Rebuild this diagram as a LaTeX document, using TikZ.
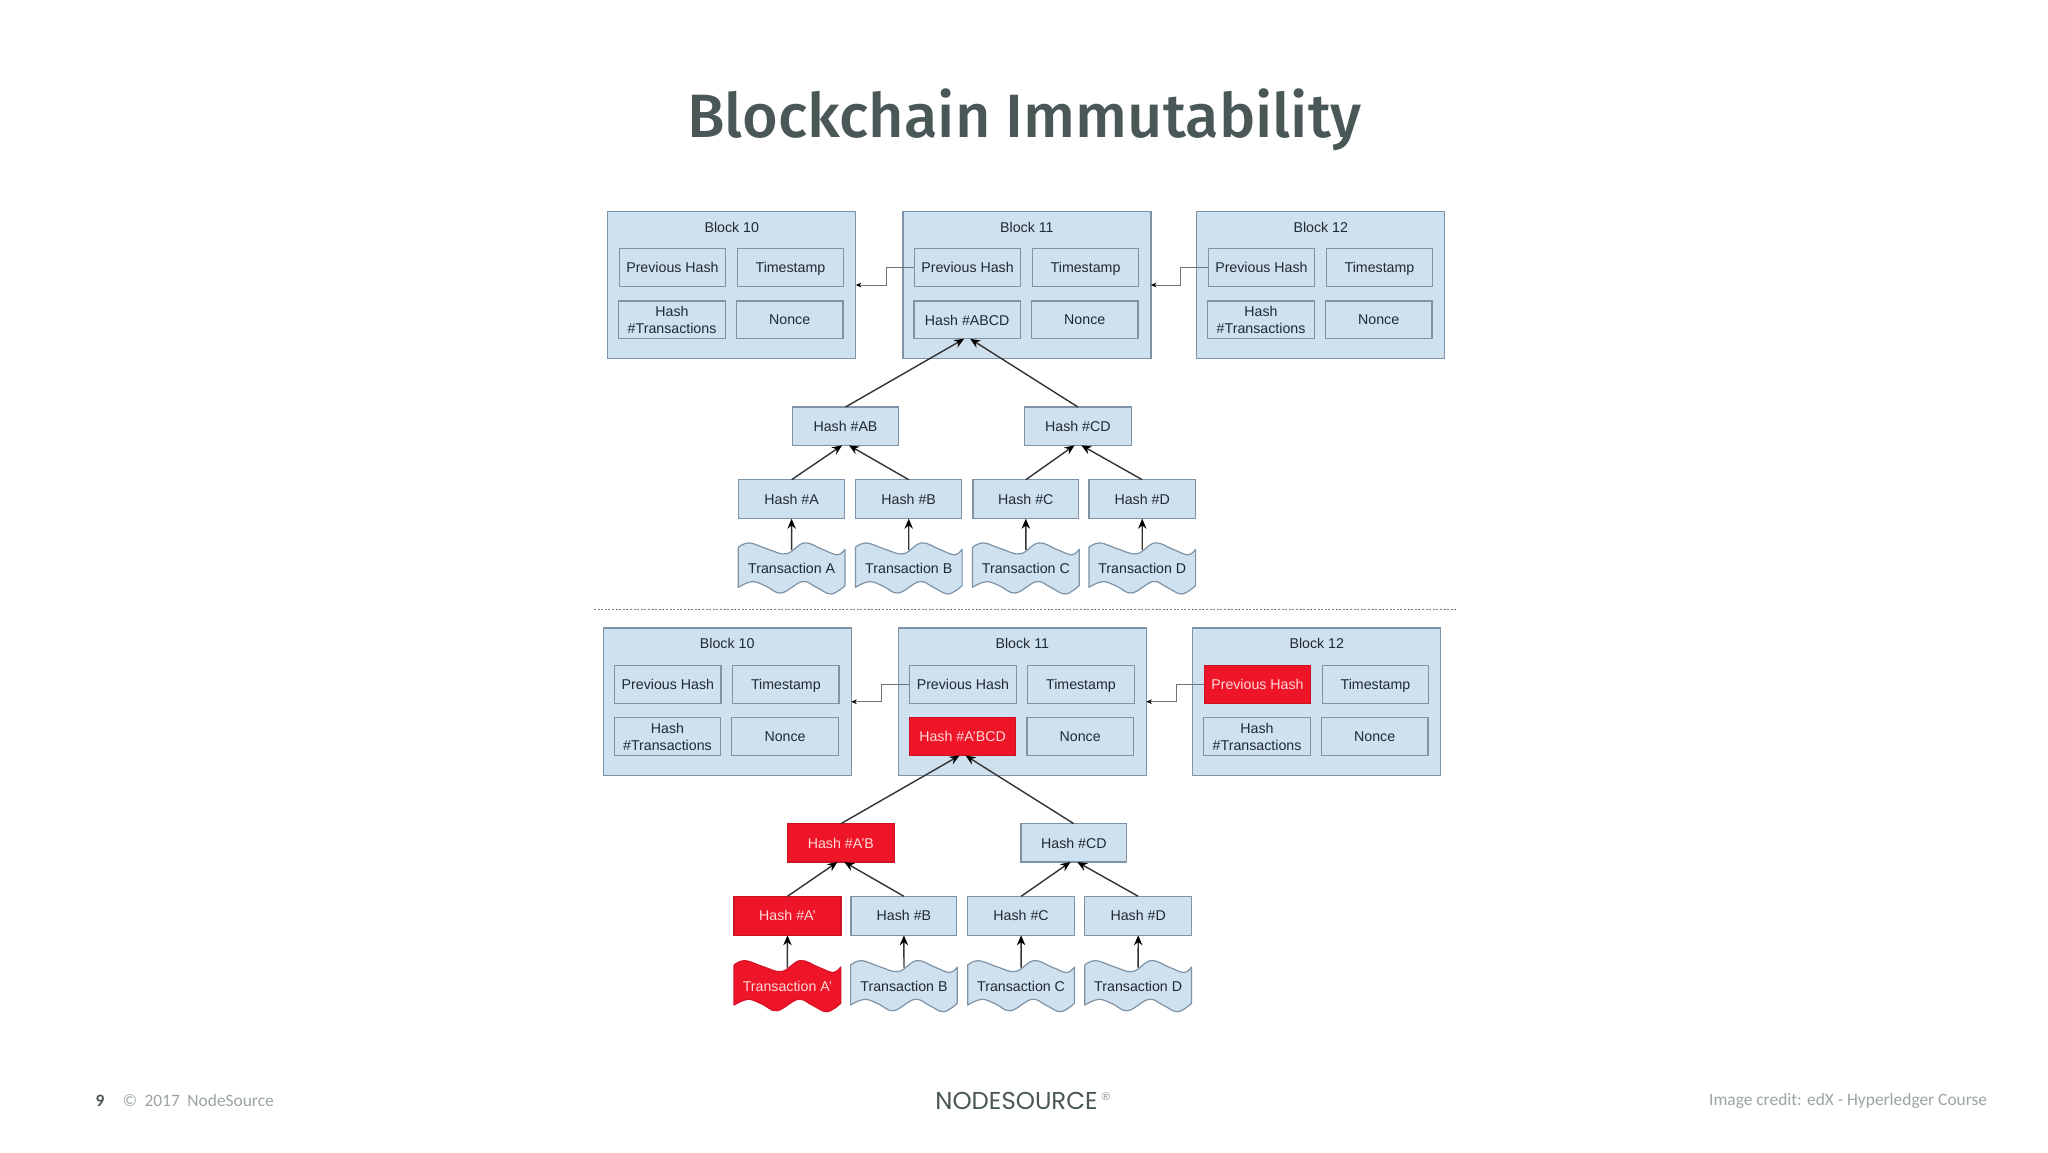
\documentclass[tikz,border=0pt]{standalone}
\usepackage{fontspec}
\setmainfont{Liberation Sans}
\newfontfamily\titlefont{Fira Sans Medium}
\newfontfamily\footfont{Carlito}
\newfontfamily\logofont{Poppins}
\usetikzlibrary{arrows.meta,calc}
\definecolor{cellblue}{HTML}{CFE0EE}
\definecolor{edgeblue}{HTML}{7E93A6}
\definecolor{alarmred}{HTML}{EE1528}
\definecolor{inktext}{HTML}{1F2A33}
\definecolor{pinktext}{HTML}{FFD8D8}
\definecolor{titlegrey}{HTML}{4A5757}
\definecolor{footgrey}{HTML}{9BA4A4}
\tikzset{
  cell/.style={draw=edgeblue,fill=cellblue,line width=.6pt,inner sep=0pt,outer sep=0pt,align=center,text depth=0pt,
    font=\fontsize{7.1}{8.4}\selectfont,text=inktext},
  alarm/.style={cell,draw=alarmred!85!black,fill=alarmred,text=pinktext},
  lbl/.style={inner sep=0pt,outer sep=0pt,text depth=0pt,font=\fontsize{7.1}{8.4}\selectfont,text=inktext},
  redlbl/.style={lbl,text=pinktext},
  mainarrow/.style={draw=black!80,line width=.7pt,-{Stealth[length=5pt,width=4.2pt,color=black]}},
  linkarrow/.style={draw=black!55,line width=.45pt,-{Stealth[length=2.8pt,width=2.4pt,color=black]}},
  footer/.style={inner sep=0pt,outer sep=0pt,font=\footfont\fontsize{8.7}{10}\selectfont,text=footgrey},
}
% name, left, top, width, height, style, text
\newcommand\bx[7]{\node[#6,minimum width=#4*.5pt,minimum height=#5*.5pt] (#1) at ({#2+#4/2},{#3+#5/2}) {#7};}
% id, left, top, title, prev style, hash style, hash text
\newcommand\blk[7]{%
  \bx{b#1}{#2}{#3}{248}{147.4}{cell}{}
  \node[lbl] (t#1) at ({#2+124},{#3+15.8}) {#4};
  \bx{p#1}{#2+11.5}{#3+37.4}{106.3}{38}{#5}{Previous Hash}
  \bx{s#1}{#2+129.5}{#3+37.4}{106.3}{38}{cell}{Timestamp}
  \bx{h#1}{#2+11}{#3+89.7}{106.5}{37.8}{#6}{#7}
  \bx{n#1}{#2+128.6}{#3+89.7}{106.5}{37.8}{cell}{Nonce}
}
% name, left, top, fill, edge, label style, text
\newcommand\txn[7]{%
  \begin{scope}[shift={(#2,#3)}]
    \fill[#4] plot[smooth,tension=.65] coordinates {(0,5) (11,.6) (30,7) (48,11.5) (66,.6) (84,7) (99,12.5) (106.7,7)}
      -- plot[smooth,tension=.65] coordinates {(106.7,43.3) (93,51.7) (78,45) (64,39.3) (43,50.7) (28,44) (14,39.3) (0,45)} -- cycle;
    \draw[#5,line width=.6pt,line join=round] plot[smooth,tension=.65] coordinates {(0,5) (11,.6) (30,7) (48,11.5) (66,.6) (84,7) (99,12.5) (106.7,7)}
      -- plot[smooth,tension=.65] coordinates {(106.7,43.3) (93,51.7) (78,45) (64,39.3) (43,50.7) (28,44) (14,39.3) (0,45)} -- cycle;
    \node[#6,minimum width=53.35pt,minimum height=26pt] (#1) at (53.35,26) {#7};
    \coordinate (#1top) at (53.35,7.5);
  \end{scope}}
\begin{document}
\begin{tikzpicture}[x=.5pt,y=-.5pt]
\useasboundingbox (0,0) rectangle (2048,1152);
\fill[white] (0,0) rectangle (2048,1152);
\node[inner sep=0pt,font=\titlefont\fontsize{30.6}{35}\selectfont,text=titlegrey] (title) at (1024.5,120) {Blockchain Immutability};

% ---- upper diagram
\blk{A}{607.8}{211.3}{Block 10}{cell}{cell}{Hash\\\#Transactions}
\blk{B}{902.9}{211.3}{Block 11}{cell}{cell}{Hash \#ABCD}
\blk{C}{1196.8}{211.3}{Block 12}{cell}{cell}{Hash\\\#Transactions}
\bx{hAB}{792.6}{407}{105.8}{38.3}{cell}{Hash \#AB}
\bx{hCD}{1024.6}{407}{106.6}{38.3}{cell}{Hash \#CD}
\bx{ha}{738.7}{479.7}{105.8}{39}{cell}{Hash \#A}
\bx{hb}{855.8}{479.7}{105.8}{39}{cell}{Hash \#B}
\bx{hc}{972.9}{479.7}{105.8}{39}{cell}{Hash \#C}
\bx{hd}{1088.9}{479.7}{106.6}{39}{cell}{Hash \#D}
\txn{ta}{738.3}{542.3}{cellblue}{edgeblue}{lbl}{Transaction A}
\txn{tb}{855.4}{542.3}{cellblue}{edgeblue}{lbl}{Transaction B}
\txn{tc}{972.5}{542.3}{cellblue}{edgeblue}{lbl}{Transaction C}
\txn{td}{1088.9}{542.3}{cellblue}{edgeblue}{lbl}{Transaction D}
\draw[linkarrow] (pB.west) -- ++(-28.2,0) |- (bA.east);
\draw[linkarrow] (pC.west) -- ++(-28.2,0) |- (bB.east);
\draw[mainarrow] (hAB.north) -- ([xshift=-1.5pt]hB.south);
\draw[mainarrow] (hCD.north) -- ([xshift=1.5pt]hB.south);
\draw[mainarrow] (ha.north) -- ([xshift=-1.7pt]hAB.south);
\draw[mainarrow] (hb.north) -- ([xshift=1.7pt]hAB.south);
\draw[mainarrow] (hc.north) -- ([xshift=-1.7pt]hCD.south);
\draw[mainarrow] (hd.north) -- ([xshift=1.7pt]hCD.south);
\draw[mainarrow] (tatop) -- (ha.south);
\draw[mainarrow] (tbtop) -- (hb.south);
\draw[mainarrow] (tctop) -- (hc.south);
\draw[mainarrow] (tdtop) -- (hd.south);

% ---- separator
\coordinate (sepL) at (594,609);
\coordinate (sepR) at (1457,609);
\draw[black!50,line width=.5pt,dash pattern=on 1pt off .8pt] (sepL) -- (sepR);

% ---- lower diagram
\blk{D}{603.2}{628}{Block 10}{cell}{cell}{Hash\\\#Transactions}
\blk{E}{898.3}{628}{Block 11}{cell}{alarm}{Hash \#A'BCD}
\blk{F}{1192.8}{628}{Block 12}{alarm}{cell}{Hash\\\#Transactions}
\bx{kAB}{787.5}{823.7}{106.7}{38.3}{alarm}{Hash \#A'B}
\bx{kCD}{1021}{823.7}{105.7}{38.3}{cell}{Hash \#CD}
\bx{ka}{734}{896.3}{106.9}{39}{alarm}{Hash \#A'}
\bx{kb}{851}{896.3}{105.8}{39}{cell}{Hash \#B}
\bx{kc}{967.7}{896.3}{106.8}{39}{cell}{Hash \#C}
\bx{kd}{1084.8}{896.3}{106.8}{39}{cell}{Hash \#D}
\txn{ra}{734}{960}{alarmred}{alarmred!90!black}{redlbl}{Transaction A'}
\txn{rb}{850.6}{960}{cellblue}{edgeblue}{lbl}{Transaction B}
\txn{rc}{967.7}{960}{cellblue}{edgeblue}{lbl}{Transaction C}
\txn{rd}{1084.8}{960}{cellblue}{edgeblue}{lbl}{Transaction D}
\draw[linkarrow] (pE.west) -- ++(-28.2,0) |- (bD.east);
\draw[linkarrow] (pF.west) -- ++(-28.2,0) |- (bE.east);
\draw[mainarrow] (kAB.north) -- ([xshift=-1.5pt]hE.south);
\draw[mainarrow] (kCD.north) -- ([xshift=1.5pt]hE.south);
\draw[mainarrow] (ka.north) -- ([xshift=-1.7pt]kAB.south);
\draw[mainarrow] (kb.north) -- ([xshift=1.7pt]kAB.south);
\draw[mainarrow] (kc.north) -- ([xshift=-1.7pt]kCD.south);
\draw[mainarrow] (kd.north) -- ([xshift=1.7pt]kCD.south);
\draw[mainarrow] (ratop) -- (ka.south);
\draw[mainarrow] (rbtop) -- (kb.south);
\draw[mainarrow] (rctop) -- (kc.south);
\draw[mainarrow] (rdtop) -- (kd.south);

% ---- footer
\node[footer,anchor=west,font=\footfont\bfseries\fontsize{8.7}{10}\selectfont,text=titlegrey] (pagenum) at (95.7,1100.3) {9};
\node[footer,anchor=west] (copy) at (122.5,1100.3) {©\hspace{3.8pt}2017\hspace{3.8pt}NodeSource};
\node[inner sep=0pt,anchor=west,font=\logofont\fontsize{12.2}{14}\selectfont,text=titlegrey] (logo) at (935,1101) {NODESOURCE};
\node[inner sep=0pt,anchor=center,font=\fontsize{5.5}{6}\selectfont,text=titlegrey!70] (reg) at (1106,1096.5) {®};
\node[footer,anchor=east] (credit) at (1987,1101) {Image credit: edX - Hyperledger Course};
\end{tikzpicture}
\end{document}
